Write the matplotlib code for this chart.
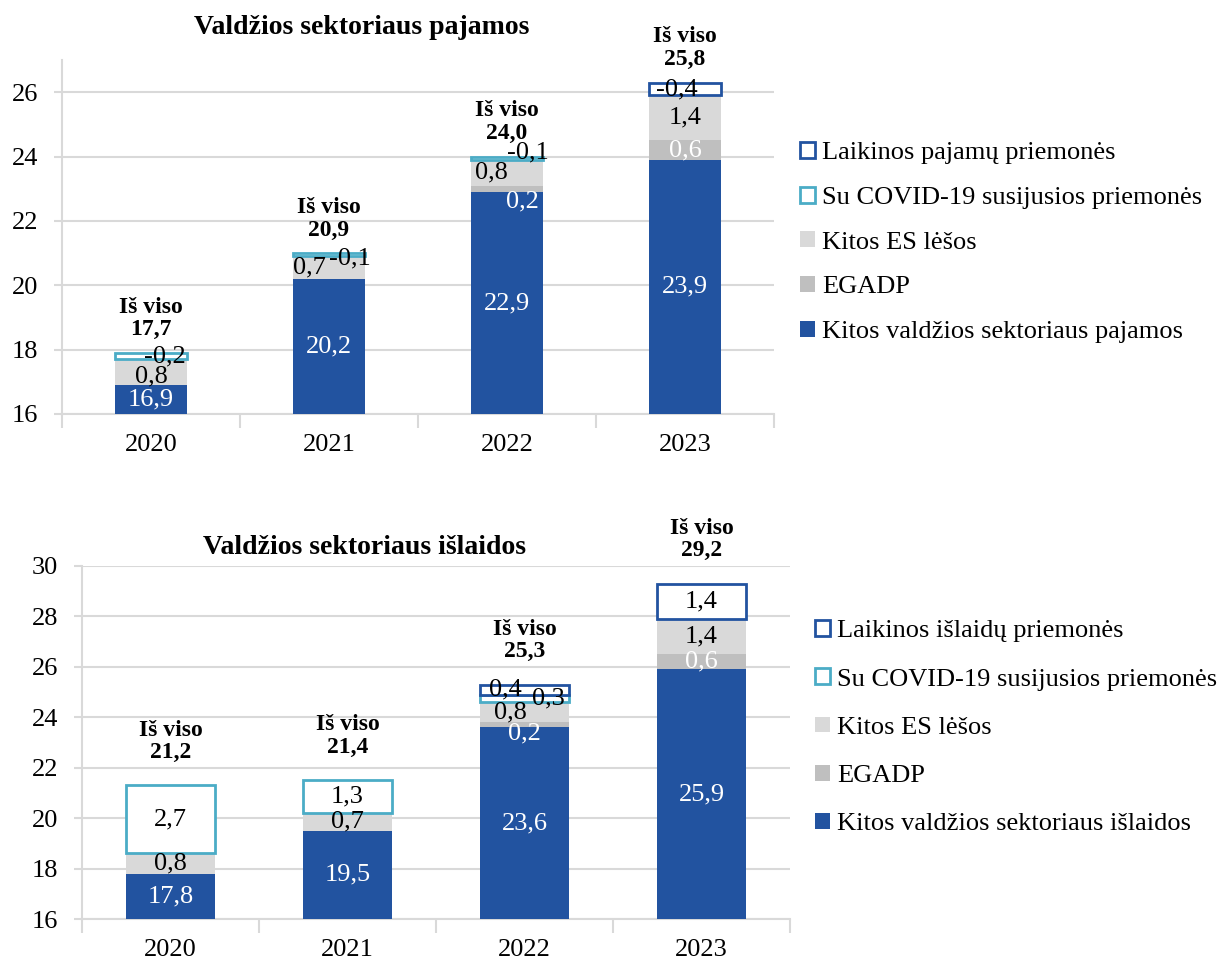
import matplotlib
matplotlib.use('Agg')
import matplotlib.pyplot as plt
from matplotlib.patches import Patch
import numpy as np

plt.rcParams['font.family'] = ['Liberation Serif', 'DejaVu Serif']

# data
years = ['2020', '2021', '2022', '2023']

rev_other = [16.9, 20.2, 22.9, 23.9]
rev_egadp = [0.0, 0.0, 0.2, 0.6]
rev_es = [0.8, 0.7, 0.8, 1.4]
rev_covid = [-0.2, -0.1, -0.1, 0.0]
rev_temp = [0.0, 0.0, 0.0, -0.4]
rev_total = [17.7, 20.9, 24.0, 25.8]

exp_other = [17.8, 19.5, 23.6, 25.9]
exp_egadp = [0.0, 0.0, 0.2, 0.6]
exp_es = [0.8, 0.7, 0.8, 1.4]
exp_covid = [2.7, 1.3, 0.3, 0.0]
exp_temp = [0.0, 0.0, 0.4, 1.4]
exp_total = [21.2, 21.4, 25.3, 29.2]

rev_names = ['Kitos valdžios sektoriaus pajamos', 'EGADP', 'Kitos ES lėšos',
             'Su COVID-19 susijusios priemonės', 'Laikinos pajamų priemonės']
exp_names = ['Kitos valdžios sektoriaus išlaidos', 'EGADP', 'Kitos ES lėšos',
             'Su COVID-19 susijusios priemonės', 'Laikinos išlaidų priemonės']

BLUE = '#2253a0'
TEAL = '#4bacc6'
EGADP_C = '#bfbfbf'
ES_C = '#d9d9d9'
GRID = '#d9d9d9'

# series styles: (face, edge, label colour)
styles = [(BLUE, BLUE, 'white'), (EGADP_C, EGADP_C, 'white'), (ES_C, ES_C, 'black'),
          ('white', TEAL, 'black'), ('white', BLUE, 'black')]

# manual label nudges (points), like the moved labels in the original
rev_nudge = {(0, 2): (0, -3), (0, 3): (10, 0), (1, 2): (-14, 0), (1, 3): (15, -3),
             (2, 1): (11, -9), (2, 2): (-11, 0), (2, 3): (15, 4), (3, 4): (-6, 0)}
exp_nudge = {(2, 1): (0, -6), (2, 2): (-10, 0), (2, 3): (17, 0), (2, 4): (-14, 0)}

fig = plt.figure(figsize=(12.21, 9.61), dpi=100)
ax1 = fig.add_axes([62 / 1221, 1 - 414 / 961, (774 - 62) / 1221, (414 - 60) / 961])
ax2 = fig.add_axes([82 / 1221, 1 - 919 / 961, (790 - 82) / 1221, (919 - 566) / 961])


def draw(ax, series, totals, names, nudge, ymin, ymax, width, total_gap):
    x = np.arange(len(years))
    bottom = np.zeros(len(years))
    handles = []
    for k, vals in enumerate(series):
        face, edge, tcol = styles[k]
        h = np.abs(np.array(vals))
        lw = 2 if face == 'white' else 0
        nz = h > 0
        ax.bar(x[nz], h[nz], width, bottom=bottom[nz], color=face, edgecolor=edge,
               linewidth=lw, zorder=3)
        top = bottom + h
        for i, v in enumerate(vals):
            if v == 0:
                continue
            lo = max(bottom[i], ymin)
            yc = (lo + top[i]) / 2
            dx, dy = nudge.get((i, k), (0, 0))
            ax.annotate(f'{v:.1f}'.replace('.', ','), (x[i], yc),
                        xytext=(dx, dy), textcoords='offset points',
                        ha='center', va='center', fontsize=19, color=tcol, zorder=5)
        bottom = top
        handles.append(Patch(facecolor=face, edgecolor=edge, linewidth=lw,
                             label=names[k]))
    for i, t in enumerate(totals):
        ax.annotate('Iš viso\n' + f'{t:.1f}'.replace('.', ','), (x[i], bottom[i]),
                    xytext=(0, total_gap), textcoords='offset points',
                    ha='center', va='bottom', fontsize=17, fontweight='bold',
                    linespacing=1.1, annotation_clip=False)
    ax.set_xlim(-0.5, len(years) - 0.5)
    ax.set_ylim(ymin, ymax)
    ax.set_yticks(np.arange(ymin, min(ymax, 30) + 0.1, 2))
    ax.set_xticks(x)
    ax.set_xticklabels(years)
    ax.set_xticks(np.arange(-0.5, len(years)), minor=True)
    ax.tick_params(axis='x', which='major', length=0, labelsize=19, pad=14.5)
    ax.tick_params(axis='x', which='minor', length=10, color=GRID, width=1.5)
    ax.tick_params(axis='y', length=6, color=GRID, width=1.5, labelsize=19, pad=11)
    ax.grid(axis='y', color=GRID, linewidth=1.5, zorder=0)
    for s in ['top', 'right']:
        ax.spines[s].set_visible(False)
    for s in ['left', 'bottom']:
        ax.spines[s].set_color(GRID)
        ax.spines[s].set_linewidth(1.5)
    return handles[::-1]


h1 = draw(ax1, [rev_other, rev_egadp, rev_es, rev_covid, rev_temp], rev_total,
          rev_names, rev_nudge, 16, 27, 0.4, 9)
h2 = draw(ax2, [exp_other, exp_egadp, exp_es, exp_covid, exp_temp], exp_total,
          exp_names, exp_nudge, 16, 30, 0.5, 16)

fig.text(362 / 1221, 1 - 28 / 961, 'Valdžios sektoriaus pajamos', ha='center',
         va='center', fontsize=20, fontweight='bold')
fig.text(365 / 1221, 1 - 548 / 961, 'Valdžios sektoriaus išlaidos', ha='center',
         va='center', fontsize=20, fontweight='bold')

leg_kw = dict(loc='upper left', frameon=False, fontsize=19, handlelength=0.55,
              handleheight=0.55, handletextpad=0.3, borderaxespad=0, borderpad=0)
fig.legend(handles=h1, bbox_to_anchor=(800 / 1221, 1 - 142 / 961),
           labelspacing=0.85, **leg_kw)
fig.legend(handles=h2, bbox_to_anchor=(815 / 1221, 1 - 620 / 961),
           labelspacing=0.985, **leg_kw)

fig.savefig('out.png', dpi=100)
